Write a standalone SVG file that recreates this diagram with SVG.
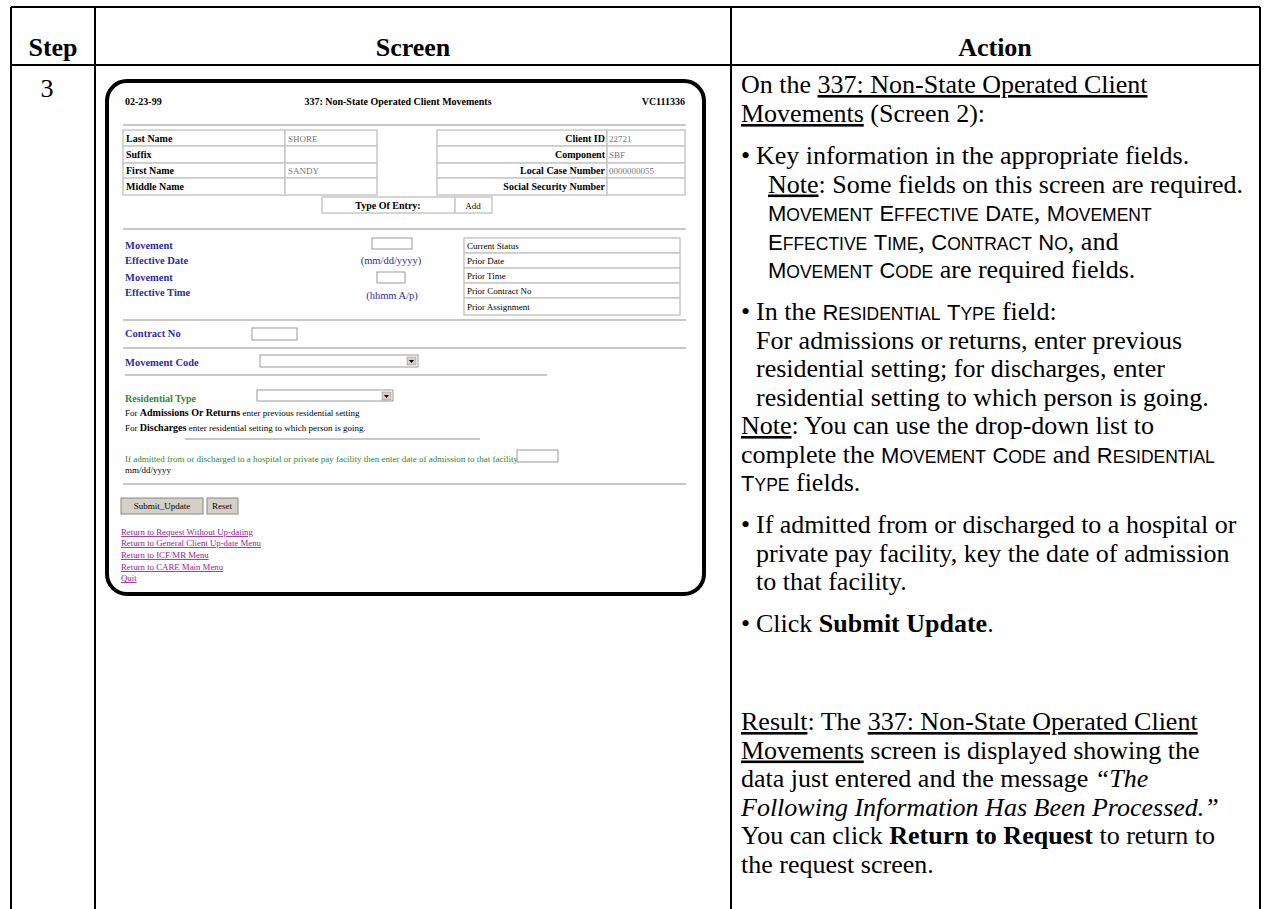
<svg xmlns="http://www.w3.org/2000/svg" width="1270" height="909" viewBox="0 0 1270 909">
  <style>
    .grid { stroke: #000; stroke-width: 2; fill: none; }
    .hd { font-family: "Liberation Serif", serif; font-weight: bold; font-size: 26px; fill: #000; }
    .tx { font-family: "Liberation Serif", serif; font-size: 26px; fill: #000; }
    .cap { font-family: "Liberation Sans", sans-serif; font-size: 22px; }
    .low { font-family: "Liberation Sans", sans-serif; font-size: 17.5px; }
    .u { text-decoration: underline; }
    .s { font-family: "Liberation Serif", serif; font-size: 9px; fill: #000; }
    .sb { font-family: "Liberation Serif", serif; font-size: 10px; font-weight: bold; fill: #000; }
    .blue { fill: #2b2bb0; font-size: 10.5px; }
    .green { fill: #2e8b2e; }
    .grey { fill: #777; }
    .link { font-family: "Liberation Serif", serif; font-size: 8.8px; fill: #a020a0; text-decoration: underline; }
    .cell { fill: #fff; stroke: #c8c8c8; stroke-width: 1.5; }
    .hr { stroke: #c8c8c8; stroke-width: 2; }
    .inp { fill: #fff; stroke: #999; stroke-width: 1; }
    .btn { fill: #d4d0c8; stroke: #888; stroke-width: 1; }
  </style>

  <!-- table frame -->
  <g id="table" class="grid">
    <line x1="11" y1="7" x2="1260" y2="7"/>
    <line x1="11" y1="65" x2="1260" y2="65"/>
    <line x1="11" y1="7" x2="11" y2="909"/>
    <line x1="95" y1="7" x2="95" y2="909"/>
    <line x1="731" y1="7" x2="731" y2="909"/>
    <line x1="1260" y1="7" x2="1260" y2="909"/>
  </g>

  <g id="headers">
    <text class="hd" x="53" y="56" text-anchor="middle">Step</text>
    <text class="hd" x="413" y="56" text-anchor="middle">Screen</text>
    <text class="hd" x="995" y="56" text-anchor="middle">Action</text>
    <text class="tx" x="47" y="97" text-anchor="middle">3</text>
  </g>

  <!-- screen capture -->
  <g id="screen">
    <rect x="107" y="81" width="597" height="513" rx="20" ry="20" fill="#fff" stroke="#000" stroke-width="4"/>
    <text class="sb" x="125" y="105">02-23-99</text>
    <text class="sb" x="398" y="105" text-anchor="middle" font-size="11">337: Non-State Operated Client Movements</text>
    <text class="sb" x="685" y="105" text-anchor="end">VC111336</text>
    <line class="hr" x1="123" y1="125" x2="686" y2="125"/>

    <!-- name table -->
    <rect class="cell" x="123" y="130" width="162" height="16"/>
    <rect class="cell" x="285" y="130" width="92" height="16"/>
    <rect class="cell" x="123" y="146" width="162" height="17"/>
    <rect class="cell" x="285" y="146" width="92" height="17"/>
    <rect class="cell" x="123" y="163" width="162" height="15"/>
    <rect class="cell" x="285" y="163" width="92" height="15"/>
    <rect class="cell" x="123" y="178" width="162" height="17"/>
    <rect class="cell" x="285" y="178" width="92" height="17"/>
    <text class="sb" x="126" y="142">Last Name</text>
    <text class="sb" x="126" y="158">Suffix</text>
    <text class="sb" x="126" y="174">First Name</text>
    <text class="sb" x="126" y="190">Middle Name</text>
    <text class="s grey" x="288" y="142">SHORE</text>
    <text class="s grey" x="288" y="174">SANDY</text>

    <!-- id table -->
    <rect class="cell" x="437" y="130" width="170" height="16"/>
    <rect class="cell" x="607" y="130" width="78" height="16"/>
    <rect class="cell" x="437" y="146" width="170" height="17"/>
    <rect class="cell" x="607" y="146" width="78" height="17"/>
    <rect class="cell" x="437" y="163" width="170" height="15"/>
    <rect class="cell" x="607" y="163" width="78" height="15"/>
    <rect class="cell" x="437" y="178" width="170" height="17"/>
    <rect class="cell" x="607" y="178" width="78" height="17"/>
    <text class="sb" x="605" y="142" text-anchor="end">Client ID</text>
    <text class="sb" x="605" y="158" text-anchor="end">Component</text>
    <text class="sb" x="605" y="174" text-anchor="end">Local Case Number</text>
    <text class="sb" x="605" y="190" text-anchor="end">Social Security Number</text>
    <text class="s grey" x="609" y="142">22721</text>
    <text class="s grey" x="609" y="158">SBF</text>
    <text class="s grey" x="609" y="174">0000000055</text>

    <rect class="cell" x="322" y="197" width="133" height="16"/>
    <rect class="cell" x="455" y="197" width="37" height="16"/>
    <text class="sb" x="388" y="209" text-anchor="middle">Type Of Entry:</text>
    <text class="s" x="473" y="209" text-anchor="middle" fill="#555">Add</text>

    <line class="hr" x1="123" y1="229" x2="686" y2="229"/>

    <text class="sb blue" x="125" y="249">Movement</text>
    <text class="sb blue" x="125" y="264">Effective Date</text>
    <text class="sb blue" x="125" y="281">Movement</text>
    <text class="sb blue" x="125" y="296">Effective Time</text>
    <rect class="inp" x="372" y="238" width="40" height="11"/>
    <text class="s blue" x="391" y="264" text-anchor="middle" font-size="8.5" font-weight="normal">(mm/dd/yyyy)</text>
    <rect class="inp" x="377" y="272" width="28" height="11"/>
    <text class="s blue" x="392" y="299" text-anchor="middle" font-size="8.5" font-weight="normal">(hhmm A/p)</text>

    <rect class="cell" x="464" y="238" width="216" height="15"/>
    <rect class="cell" x="464" y="253" width="216" height="15"/>
    <rect class="cell" x="464" y="268" width="216" height="15"/>
    <rect class="cell" x="464" y="283" width="216" height="15"/>
    <rect class="cell" x="464" y="298" width="216" height="17"/>
    <text class="s" x="467" y="249" font-size="8.5" fill="#444">Current Status</text>
    <text class="s" x="467" y="264" font-size="8.5" fill="#444">Prior Date</text>
    <text class="s" x="467" y="279" font-size="8.5" fill="#444">Prior Time</text>
    <text class="s" x="467" y="294" font-size="8.5" fill="#444">Prior Contract No</text>
    <text class="s" x="467" y="310" font-size="8.5" fill="#444">Prior Assignment</text>

    <line class="hr" x1="123" y1="320" x2="686" y2="320"/>
    <text class="sb blue" x="125" y="337">Contract No</text>
    <rect class="inp" x="252" y="328" width="45" height="12"/>
    <line class="hr" x1="123" y1="348" x2="686" y2="348"/>

    <text class="sb blue" x="125" y="366">Movement Code</text>
    <rect class="inp" x="260" y="355" width="158" height="12"/>
    <rect x="407" y="357" width="9" height="8" fill="#d4d0c8" stroke="#888" stroke-width="0.5"/>
    <path d="M409 360 L414 360 L411.5 363 Z" fill="#000"/>
    <line class="hr" x1="125" y1="375" x2="547" y2="375"/>

    <text class="sb green" x="125" y="402" font-size="10.5">Residential Type</text>
    <rect class="inp" x="257" y="390" width="136" height="11"/>
    <rect x="382" y="392" width="9" height="8" fill="#d4d0c8" stroke="#888" stroke-width="0.5"/>
    <path d="M384 395 L389 395 L386.5 398 Z" fill="#000"/>
    <text class="s" x="125" y="416" font-size="8" fill="#333">For <tspan font-weight="bold" font-size="10" fill="#000">Admissions Or Returns</tspan> enter previous residential setting</text>
    <text class="s" x="125" y="431" font-size="8" fill="#333">For <tspan font-weight="bold" font-size="10" fill="#000">Discharges</tspan> enter residential setting to which person is going.</text>
    <line class="hr" x1="185" y1="439" x2="480" y2="439"/>

    <text class="s green" x="125" y="462" font-size="7.6">If admitted from or discharged to a hospital or private pay facility then enter date of admission to that facility</text>
    <rect class="inp" x="517" y="450" width="41" height="12"/>
    <text class="s" x="125" y="473" font-size="7.6" fill="#444">mm/dd/yyyy</text>
    <line class="hr" x1="123" y1="484" x2="686" y2="484"/>

    <rect class="btn" x="121" y="498" width="82" height="16"/>
    <rect class="btn" x="207" y="498" width="31" height="16"/>
    <text class="s" x="162" y="509" text-anchor="middle" font-size="8" fill="#333">Submit_Update</text>
    <text class="s" x="222" y="509" text-anchor="middle" font-size="8" fill="#333">Reset</text>

    <text class="link" x="121" y="535">Return to Request Without Up-dating</text>
    <text class="link" x="121" y="546">Return to General Client Up-date Menu</text>
    <text class="link" x="121" y="558">Return to ICF/MR Menu</text>
    <text class="link" x="121" y="570">Return to CARE Main Menu</text>
    <text class="link" x="121" y="581">Quit</text>
  </g>

  <!-- instructions -->
  <g id="action" class="tx">
    <text x="741" y="93">On the <tspan class="u">337: Non-State Operated Client</tspan></text>
    <text x="741" y="122"><tspan class="u">Movements</tspan> (Screen 2):</text>

    <text x="741" y="164">•</text>
    <text x="756" y="164">Key information in the appropriate fields.</text>
    <text x="768" y="192.5"><tspan class="u">Note</tspan>: Some fields on this screen are required.</text>
    <text x="768" y="221"><tspan class="cap">M</tspan><tspan class="low">OVEMENT</tspan> <tspan class="cap">E</tspan><tspan class="low">FFECTIVE</tspan> <tspan class="cap">D</tspan><tspan class="low">ATE</tspan>, <tspan class="cap">M</tspan><tspan class="low">OVEMENT</tspan></text>
    <text x="768" y="249.5"><tspan class="cap">E</tspan><tspan class="low">FFECTIVE</tspan> <tspan class="cap">T</tspan><tspan class="low">IME</tspan>, <tspan class="cap">C</tspan><tspan class="low">ONTRACT</tspan> <tspan class="cap">N</tspan><tspan class="low">O</tspan>, and</text>
    <text x="768" y="278"><tspan class="cap">M</tspan><tspan class="low">OVEMENT</tspan> <tspan class="cap">C</tspan><tspan class="low">ODE</tspan> are required fields.</text>

    <text x="741" y="320">•</text>
    <text x="756" y="320">In the <tspan class="cap">R</tspan><tspan class="low">ESIDENTIAL</tspan> <tspan class="cap">T</tspan><tspan class="low">YPE</tspan> field:</text>
    <text x="756" y="348.5">For admissions or returns, enter previous</text>
    <text x="756" y="377">residential setting; for discharges, enter</text>
    <text x="756" y="405.5">residential setting to which person is going.</text>

    <text x="741" y="434"><tspan class="u">Note</tspan>:  You can use the drop-down list to</text>
    <text x="741" y="462.5">complete the <tspan class="cap">M</tspan><tspan class="low">OVEMENT</tspan> <tspan class="cap">C</tspan><tspan class="low">ODE</tspan> and <tspan class="cap">R</tspan><tspan class="low">ESIDENTIAL</tspan></text>
    <text x="741" y="491"><tspan class="cap">T</tspan><tspan class="low">YPE</tspan> fields.</text>

    <text x="741" y="533">•</text>
    <text x="756" y="533">If admitted from or discharged to a hospital or</text>
    <text x="756" y="561.5">private pay facility, key the date of admission</text>
    <text x="756" y="590">to that facility.</text>

    <text x="741" y="632">•</text>
    <text x="756" y="632">Click <tspan font-weight="bold">Submit Update</tspan>.</text>

    <text x="741" y="730"><tspan class="u">Result</tspan>:  The <tspan class="u">337: Non-State Operated Client</tspan></text>
    <text x="741" y="758.5"><tspan class="u">Movements</tspan> screen is displayed showing the</text>
    <text x="741" y="787">data just entered and the message <tspan font-style="italic">“The</tspan></text>
    <text x="741" y="815.5" font-style="italic">Following Information Has Been Processed.”</text>
    <text x="741" y="844">You can click <tspan font-weight="bold">Return to Request</tspan> to return to</text>
    <text x="741" y="872.5">the request screen.</text>
  </g>
</svg>
